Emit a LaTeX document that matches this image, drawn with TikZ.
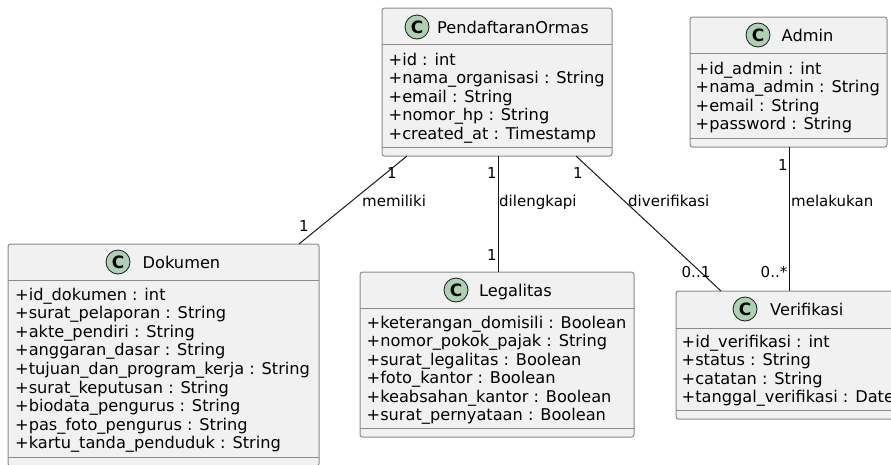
\documentclass[tikz,border=0pt]{standalone}
\usepackage{fontspec}
\setmainfont{DejaVu Sans}
\usetikzlibrary{calc}
\definecolor{boxfill}{HTML}{F1F1F1}
\definecolor{boxedge}{HTML}{8A8A8A}
\definecolor{ink}{HTML}{181818}
\definecolor{badgegreen}{HTML}{ADD1B2}
\newcommand\attrsize{\fontsize{16.2}{18.5}\selectfont}
\newcommand\lblsize{\fontsize{15}{18}\selectfont}
\begin{document}
\begin{tikzpicture}[x=1pt,y=-1pt,
  classbox/.style={draw=boxedge,fill=boxfill,line width=1pt,rounded corners=2.5pt,
    anchor=north west,inner sep=0pt,outer sep=0pt},
  divider/.style={draw=boxedge,line width=1pt},
  badge/.style={circle,draw=ink,fill=badgegreen,line width=0.8pt,minimum size=24pt,
    inner sep=0pt,font=\fontsize{17}{17}\selectfont\bfseries},
  title/.style={anchor=base west,inner sep=0pt,font=\attrsize},
  attr/.style={anchor=base west,inner sep=0pt,font=\attrsize},
  assoc/.style={draw=ink,line width=1pt},
  lbl/.style={inner sep=0pt,font=\lblsize},
  lblw/.style={anchor=base west,inner sep=0pt,font=\lblsize},
]
\useasboundingbox (0,0) rectangle (891,464);
\clip (0,0) rectangle (891,464);

% ---------- PendaftaranOrmas ----------
\node[classbox,minimum width=230pt,minimum height=148pt] (po) at (382,8) {};
\draw[divider] ([shift={(0,36)}]po.north west) -- ([shift={(0,36)}]po.north east);
\draw[divider] ([shift={(0,-9)}]po.south west) -- ([shift={(0,-9)}]po.south east);
\node[badge] (po-c) at (417,27) {C};
\node[title] (po-t) at (437,33) {PendaftaranOrmas};
\foreach \t [count=\i] in {+id : int,+nama\_organisasi : String,+email : String,
    +nomor\_hp : String,+created\_at : Timestamp}
  \node[attr] (po-a\i) at (388.5,{65+18.5*(\i-1)}) {\t};

% ---------- Admin ----------
\node[classbox,minimum width=197pt,minimum height=130pt] (adm) at (690,17) {};
\draw[divider] ([shift={(0,36)}]adm.north west) -- ([shift={(0,36)}]adm.north east);
\draw[divider] ([shift={(0,-9)}]adm.south west) -- ([shift={(0,-9)}]adm.south east);
\node[badge] (adm-c) at (758,35) {C};
\node[title] (adm-t) at (781.5,41) {Admin};
\foreach \t [count=\i] in {+id\_admin : int,+nama\_admin : String,+email : String,
    +password : String}
  \node[attr] (adm-a\i) at (695.5,{74+18.5*(\i-1)}) {\t};

% ---------- Dokumen ----------
\node[classbox,minimum width=311pt,minimum height=222pt] (dok) at (8,244) {};
\draw[divider] ([shift={(0,36)}]dok.north west) -- ([shift={(0,36)}]dok.north east);
\draw[divider] ([shift={(0,-9)}]dok.south west) -- ([shift={(0,-9)}]dok.south east);
\node[badge] (dok-c) at (118,262) {C};
\node[title] (dok-t) at (142.5,268) {Dokumen};
\foreach \t [count=\i] in {+id\_dokumen : int,+surat\_pelaporan : String,+akte\_pendiri : String,
    +anggaran\_dasar : String,+tujuan\_dan\_program\_kerja : String,+surat\_keputusan : String,
    +biodata\_pengurus : String,+pas\_foto\_pengurus : String,+kartu\_tanda\_penduduk : String}
  \node[attr] (dok-a\i) at (15,{300+18.6*(\i-1)}) {\t};

% ---------- Legalitas ----------
\node[classbox,minimum width=274pt,minimum height=165pt] (leg) at (360,272) {};
\draw[divider] ([shift={(0,36)}]leg.north west) -- ([shift={(0,36)}]leg.north east);
\draw[divider] ([shift={(0,-9)}]leg.south west) -- ([shift={(0,-9)}]leg.south east);
\node[badge] (leg-c) at (456,290) {C};
\node[title] (leg-t) at (479,296) {Legalitas};
\foreach \t [count=\i] in {+keterangan\_domisili : Boolean,+nomor\_pokok\_pajak : String,
    +surat\_legalitas : Boolean,+foto\_kantor : Boolean,+keabsahan\_kantor : Boolean,
    +surat\_pernyataan : Boolean}
  \node[attr] (leg-a\i) at (366.5,{328+18.5*(\i-1)}) {\t};

% ---------- Verifikasi ----------
\node[classbox,minimum width=224pt,minimum height=128pt] (ver) at (676,291) {};
\draw[divider] ([shift={(0,37)}]ver.north west) -- ([shift={(0,37)}]ver.north east);
\draw[divider] ([shift={(0,-9)}]ver.south west) -- ([shift={(0,-9)}]ver.south east);
\node[badge] (ver-c) at (745,309) {C};
\node[title] (ver-t) at (770,315) {Verifikasi};
\foreach \t [count=\i] in {+id\_verifikasi : int,+status : String,+catatan : String,
    +tanggal\_verifikasi : Date}
  \node[attr] (ver-a\i) at (681.5,{347+18.5*(\i-1)}) {\t};

% ---------- Associations ----------
\draw[assoc] ([xshift=25pt]po.south west) -- ([xshift=-20pt]dok.north east);
\node[lbl] (m1a) at (392,173) {1};
\node[lblw] (m1l) at (362,206) {memiliki};
\node[lbl] (m1b) at (304,226) {1};

\draw[assoc] ([xshift=116pt]po.south west) -- ([xshift=138pt]leg.north west);
\node[lbl] (m2a) at (492,173) {1};
\node[lblw] (m2l) at (499,206) {dilengkapi};
\node[lbl] (m2b) at (492,255) {1};

\draw[assoc] ([xshift=194pt]po.south west) -- ([xshift=45pt]ver.north west);
\node[lbl] (m3a) at (578,173) {1};
\node[lblw] (m3l) at (628,206) {diverifikasi};
\node[lbl] (m3b) at (696,272) {0..1};

\draw[assoc] ([xshift=99pt]adm.south west) -- ([xshift=113pt]ver.north west);
\node[lbl] (m4a) at (783,165) {1};
\node[lblw] (m4l) at (791,206) {melakukan};
\node[lbl] (m4b) at (774,272) {0..*};
\end{tikzpicture}
\end{document}
